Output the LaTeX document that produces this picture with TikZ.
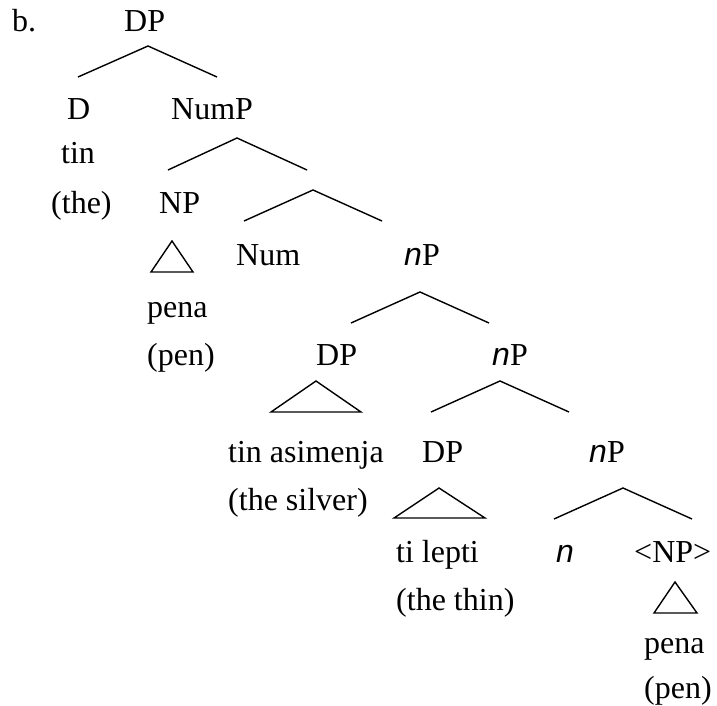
\documentclass[tikz,border=0pt]{standalone}
\usepackage{fontspec}
\setmainfont{Liberation Serif}
\newfontfamily\sansit[ItalicFont={Liberation Sans Italic}]{Liberation Sans}
\newcommand{\lightn}{{\sansit\itshape n}}

\begin{document}
\begin{tikzpicture}[x=1pt,y=-1pt]
\tikzstyle{lbl}=[
	anchor=base west,
	inner sep=0pt,
	font=\fontsize{32}{38}\selectfont ]
\tikzstyle{every node}=[lbl]
\tikzstyle{branch}=[line width=1.4pt, line join=miter]
\useasboundingbox (0,0) rectangle (717,706);

\node (ex) at (12,32) {b.};
\node (dp) at (124,32) {DP};
\node (d) at (67,120) {D};
\node (nump) at (171,120) {NumP};
\node (tin) at (61,163) {tin};
\node (the) at (51,213) {(the)};
\node (np) at (159,213) {NP};
\node (num) at (236,265) {Num};
\node (nPa) at (404,265) {\lightn P};
\node (pena) at (147,317) {pena};
\node (pen) at (147,365) {(pen)};
\node (dpa) at (316,365) {DP};
\node (nPb) at (492,365) {\lightn P};
\node (asim) at (228,462) {tin asimenja};
\node (dpb) at (422,462) {DP};
\node (nPc) at (589,462) {\lightn P};
\node (silver) at (228,510) {(the silver)};
\node (lepti) at (396,562) {ti lepti};
\node (n) at (556,562) {\lightn};
\node (npt) at (634,562) {<NP>};
\node (thin) at (396,610) {(the thin)};
\node (penab) at (644,653) {pena};
\node (penb) at (644,698) {(pen)};

\coordinate (dp-l) at (78,77);   \coordinate (dp-t) at (148,46);  \coordinate (dp-r) at (217,77);
\coordinate (nump-l) at (168,170); \coordinate (nump-t) at (237,138); \coordinate (nump-r) at (307,170);
\coordinate (numb-l) at (244,221); \coordinate (numb-t) at (313,190); \coordinate (numb-r) at (382,221);
\coordinate (nPa-l) at (351,323); \coordinate (nPa-t) at (420,292); \coordinate (nPa-r) at (489,323);
\coordinate (nPb-l) at (431,412); \coordinate (nPb-t) at (500,381); \coordinate (nPb-r) at (569,412);
\coordinate (nPc-l) at (554,519); \coordinate (nPc-t) at (623,488); \coordinate (nPc-r) at (692,519);

\draw[branch] (dp-l) -- (dp-t) -- (dp-r);
\draw[branch] (nump-l) -- (nump-t) -- (nump-r);
\draw[branch] (numb-l) -- (numb-t) -- (numb-r);
\draw[branch] (nPa-l) -- (nPa-t) -- (nPa-r);
\draw[branch] (nPb-l) -- (nPb-t) -- (nPb-r);
\draw[branch] (nPc-l) -- (nPc-t) -- (nPc-r);

\coordinate (np-t) at (172,241);  \coordinate (np-l) at (151,272); \coordinate (np-r) at (193,272);
\coordinate (dpa-t) at (316,381); \coordinate (dpa-l) at (271,412); \coordinate (dpa-r) at (361,412);
\coordinate (dpb-t) at (439,488); \coordinate (dpb-l) at (394,518); \coordinate (dpb-r) at (485,518);
\coordinate (npt-t) at (675,582); \coordinate (npt-l) at (654,613); \coordinate (npt-r) at (697,613);

\draw[branch] (np-t) -- (np-l) -- (np-r) -- cycle;
\draw[branch] (dpa-t) -- (dpa-l) -- (dpa-r) -- cycle;
\draw[branch] (dpb-t) -- (dpb-l) -- (dpb-r) -- cycle;
\draw[branch] (npt-t) -- (npt-l) -- (npt-r) -- cycle;
\end{tikzpicture}
\end{document}
